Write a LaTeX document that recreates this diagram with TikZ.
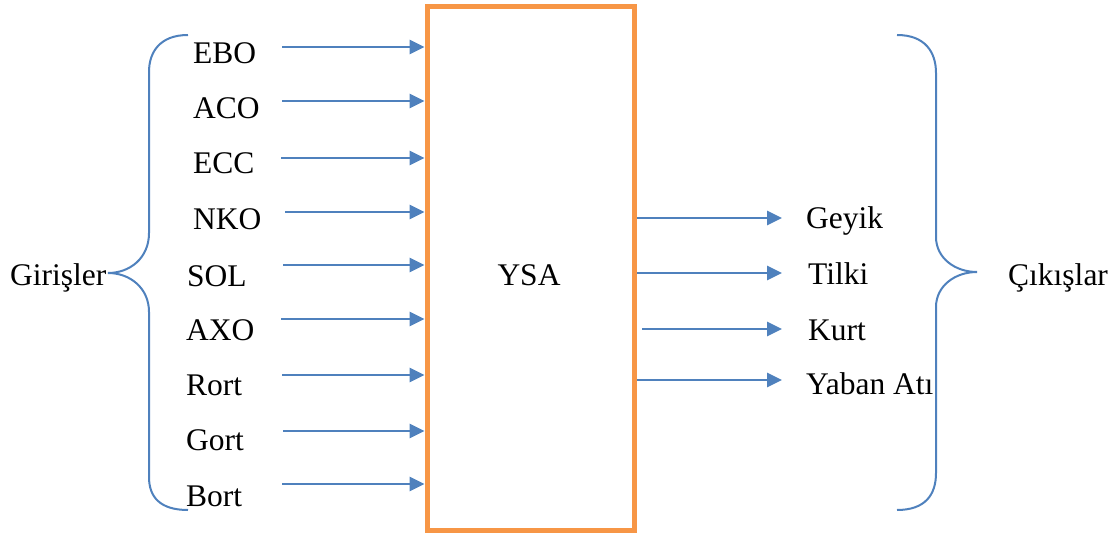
\documentclass[tikz,border=0pt]{standalone}
\usepackage{fontspec}
\setmainfont{Liberation Serif}
\usetikzlibrary{arrows.meta}
\definecolor{oblue}{HTML}{4F81BD}
\definecolor{oorange}{HTML}{F79646}
\begin{document}
\begin{tikzpicture}[x=1pt,y=-1pt,
  lbl/.style={anchor=base west,inner sep=0pt,font=\fontsize{31.5}{36}\selectfont},
  arr/.style={draw=oblue,line width=2.8pt,-{Triangle[length=15pt,width=14pt]}},
  brace/.style={draw=oblue,line width=2pt},
  blk/.style={draw=oorange,line width=5pt,rectangle,inner sep=0pt,minimum width=207.5pt,minimum height=523pt}]
\useasboundingbox (0,0) rectangle (1118,537);
\node[blk] (box) at (530.75,268.5) {};
\node[lbl,anchor=base] (ysa) at (529,285) {YSA};
% inputs
\foreach \n/\t/\x/\b/\ay/\sx in {ebo/EBO/193/64/47/282, aco/ACO/193/119/101/282, ecc/ECC/193/174/158/281, nko/NKO/193/230/212/285, sol/SOL/187/286/265/283, axo/AXO/186/340/319/281, rort/Rort/186/395/375/282, gort/Gort/186/450/431/283, bort/Bort/186/506/484/282}{
  \node[lbl] (\n) at (\x,\b) {\t};
  \coordinate (\n s) at (\sx,\ay);
  \draw[arr] (\n s) -- (box.west |- \n s);
}
% outputs
\foreach \n/\t/\x/\b/\ay/\sx in {geyik/Geyik/806/229/218/637, tilki/Tilki/808/284/273/637, kurt/Kurt/808/340/329/642, yaban/Yaban Atı/806/394/380/637}{
  \node[lbl] (\n) at (\x,\b) {\t};
  \coordinate (\n s) at (\sx,\ay);
  \coordinate (\n e) at (782,\ay);
  \draw[arr] (\n s) -- (\n e);
}
\node[lbl] (gir) at (10,285) {Girişler};
\node[lbl] (cik) at (1008,285) {Çıkışlar};
% braces
\draw[brace] (188,35) .. controls (160,35) and (149,52) .. (149,72) -- (149,233)
  .. controls (149,258) and (130,273) .. (108,273)
  .. controls (130,273) and (149,288) .. (149,312) -- (149,477)
  .. controls (149,497) and (160,510) .. (188,510);
\draw[brace] (897,35) .. controls (925,35) and (936,52) .. (936,73) -- (936,237)
  .. controls (936,258) and (955,272) .. (977,272)
  .. controls (955,272) and (936,286) .. (936,307) -- (936,473)
  .. controls (936,495) and (925,510) .. (897,510);
\end{tikzpicture}
\end{document}
